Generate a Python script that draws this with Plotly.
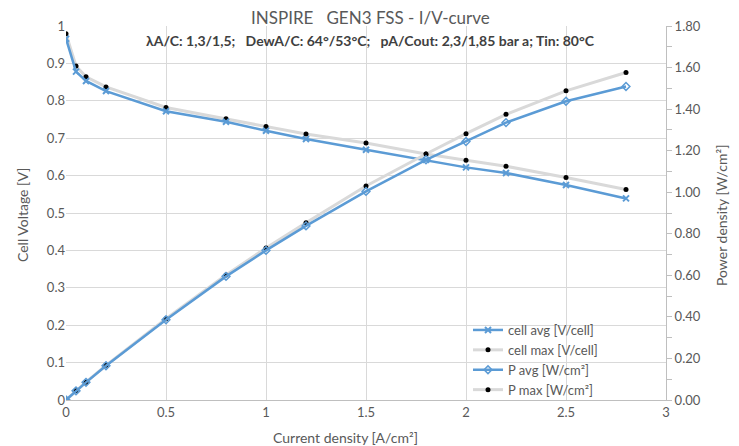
import plotly.graph_objects as go

current = [0, 0.05, 0.1, 0.2, 0.5, 0.8, 1.0, 1.2, 1.5, 1.8, 2.0, 2.2, 2.5, 2.8]
cell_avg = [0.966, 0.878, 0.853, 0.826, 0.772, 0.744, 0.720, 0.698, 0.669, 0.642, 0.622, 0.607, 0.575, 0.539]
cell_max = [0.979, 0.893, 0.864, 0.837, 0.782, 0.752, 0.731, 0.711, 0.687, 0.658, 0.641, 0.625, 0.595, 0.563]
p_avg = [0, 0.044, 0.085, 0.165, 0.386, 0.595, 0.720, 0.838, 1.004, 1.156, 1.244, 1.335, 1.438, 1.509]
p_max = [0, 0.045, 0.086, 0.167, 0.391, 0.602, 0.731, 0.853, 1.030, 1.184, 1.282, 1.375, 1.488, 1.576]

x_ticks = [0, 0.5, 1, 1.5, 2, 2.5, 3]
y_ticks = [0, 0.1, 0.2, 0.3, 0.4, 0.5, 0.6, 0.7, 0.8, 0.9, 1]
y2_ticks = [0, 0.2, 0.4, 0.6, 0.8, 1.0, 1.2, 1.4, 1.6, 1.8]

BLUE = "#5b9bd5"
GRAY_LINE = "#d9d9d9"
TXT = "#595959"
FONT = "Lato"

OFF = 8  # default page body margin
W, H = 739 - OFF, 446 - OFF
# plot area in window pixels: x 66..666, y 26..400
ML, MT = 66 - OFF, 26 - OFF
PW, PH = 600, 374
MR, MB = W - ML - PW, H - MT - PH


def px(xp):
    return (xp - OFF - ML) / PW


def py(yp):
    return (MT + PH - (yp - OFF)) / PH


fig = go.Figure()

fig.add_trace(go.Scatter(
    x=current, y=cell_max, name="cell max [V/cell]", mode="lines+markers",
    line=dict(color=GRAY_LINE, width=3),
    marker=dict(symbol="circle", size=5, color="black"),
    legendrank=2,
))
fig.add_trace(go.Scatter(
    x=current, y=p_max, name="P max [W/cm²]", mode="lines+markers", yaxis="y2",
    line=dict(color=GRAY_LINE, width=3),
    marker=dict(symbol="circle", size=5, color="black"),
    legendrank=4,
))
fig.add_trace(go.Scatter(
    x=current, y=cell_avg, name="cell avg [V/cell]", mode="lines+markers",
    line=dict(color=BLUE, width=2.5),
    marker=dict(symbol="x-thin-open", size=6, color=BLUE, line=dict(color=BLUE, width=2)),
    legendrank=1,
))
fig.add_trace(go.Scatter(
    x=current, y=p_avg, name="P avg [W/cm²]", mode="lines+markers", yaxis="y2",
    line=dict(color=BLUE, width=2.5),
    marker=dict(symbol="diamond-open", size=6, color=BLUE, line=dict(color=BLUE, width=1.5)),
    legendrank=3,
))

fig.update_layout(
    width=W, height=H,
    margin=dict(l=ML, r=MR, t=MT, b=MB, autoexpand=False),
    paper_bgcolor="white", plot_bgcolor="white",
    font=dict(family=FONT, size=13, color=TXT),
    showlegend=True,
    legend=dict(
        x=px(468), y=py(315), xanchor="left", yanchor="top",
        bgcolor="rgba(255,255,255,0)", font=dict(size=13, color=TXT),
        tracegroupgap=0, itemwidth=30,
    ),
    xaxis=dict(
        range=[0, 3], tickvals=x_ticks, ticktext=[str(v) for v in x_ticks],
        showgrid=True, gridcolor=GRAY_LINE, gridwidth=1,
        showline=True, linecolor="#bfbfbf", linewidth=1,
        zeroline=False, ticks="", tickfont=dict(size=13, color=TXT),
        automargin=False,
    ),
    yaxis=dict(
        range=[0, 1], tickvals=y_ticks, ticktext=[f"{v:g}" for v in y_ticks],
        showgrid=True, gridcolor=GRAY_LINE, gridwidth=1,
        showline=False, zeroline=False, ticks="",
        tickfont=dict(size=13, color=TXT), automargin=False,
    ),
    yaxis2=dict(
        range=[0, 1.8], overlaying="y", side="right",
        tickvals=y2_ticks, ticktext=[f"{v:.2f}" for v in y2_ticks],
        showgrid=False, zeroline=False,
        showline=True, linecolor="#bfbfbf", linewidth=1,
        ticks="outside", ticklen=5, tickcolor="#bfbfbf",
        minor=dict(ticks="outside", dtick=0.1, ticklen=5, tickcolor="#bfbfbf"),
        tickfont=dict(size=13, color=TXT), automargin=False,
    ),
    annotations=[
        dict(text="INSPIRE   GEN3 FSS - I/V-curve", x=px(370), y=py(18),
             xref="paper", yref="paper", showarrow=False,
             font=dict(size=17, color=TXT), xanchor="center", yanchor="middle"),
        dict(text="<b>λA/C: 1,3/1,5;   DewA/C: 64°/53°C;   pA/Cout: 2,3/1,85 bar a; Tin: 80°C</b>",
             x=px(370), y=py(40), xref="paper", yref="paper", showarrow=False,
             font=dict(size=14, color="#404040"), xanchor="center", yanchor="middle"),
        dict(text="Current density [A/cm²]", x=px(345), y=py(437),
             xref="paper", yref="paper", showarrow=False,
             font=dict(size=14, color=TXT), xanchor="center", yanchor="middle"),
        dict(text="Cell Voltage [V]", x=px(22), y=py(215), textangle=-90,
             xref="paper", yref="paper", showarrow=False,
             font=dict(size=14, color=TXT), xanchor="center", yanchor="middle"),
        dict(text="Power density [W/cm²]", x=px(721), y=py(215), textangle=-90,
             xref="paper", yref="paper", showarrow=False,
             font=dict(size=14, color=TXT), xanchor="center", yanchor="middle"),
    ],
)

fig.write_html("out.html")
